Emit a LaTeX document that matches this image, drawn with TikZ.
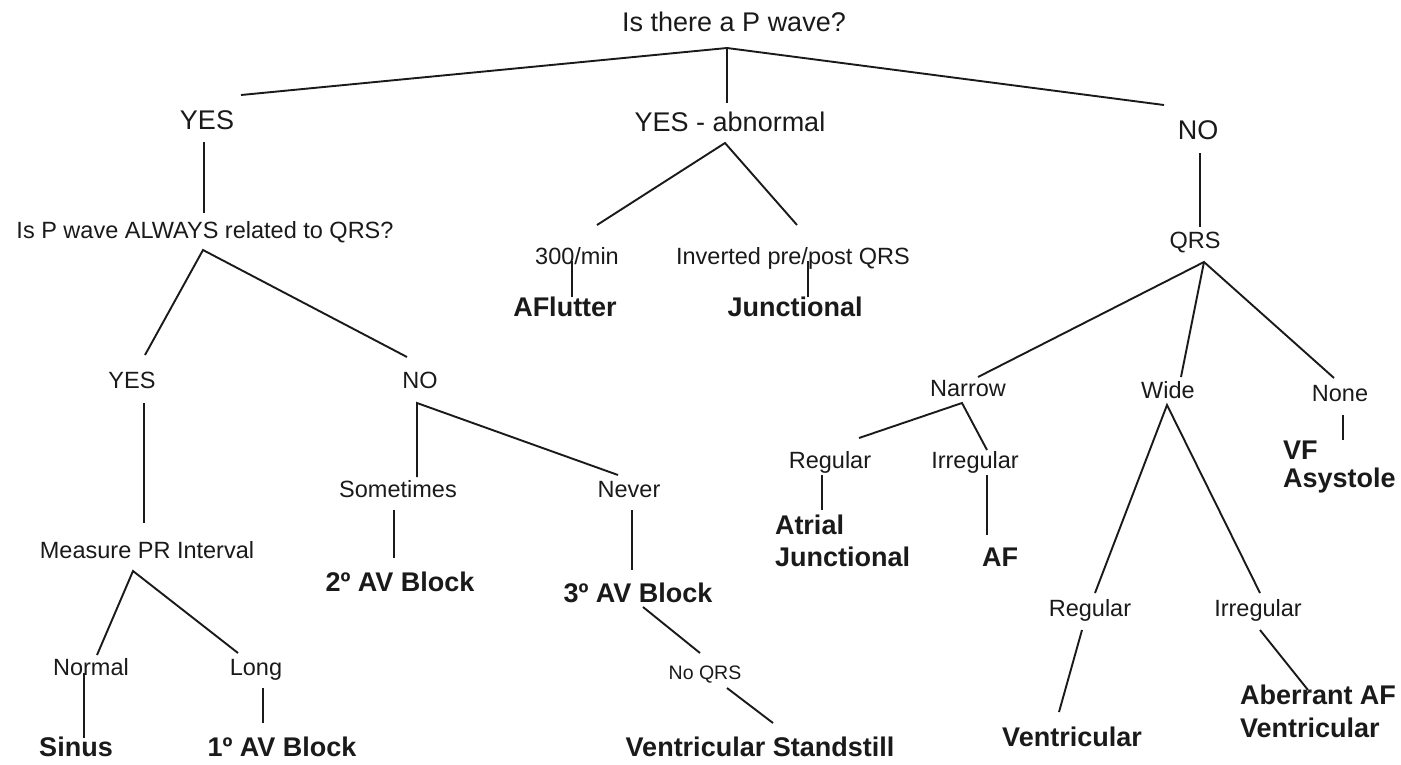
\documentclass[tikz,border=0pt]{standalone}
\usepackage{fontspec}
\setmainfont{Liberation Sans}
\definecolor{ink}{HTML}{1A1A1A}
\begin{document}
\begin{tikzpicture}[x=1pt,y=-1pt,
  every node/.style={inner sep=0pt,outer sep=0pt,text=ink},
  big/.style={text height=19.3pt,text depth=0pt,font=\fontsize{27}{32}\selectfont},
  mid/.style={text height=16.8pt,text depth=0pt,font=\fontsize{23.5}{28}\selectfont},
  small/.style={text height=14pt,text depth=0pt,font=\fontsize{19.5}{23}\selectfont},
  res/.style={text height=19.3pt,text depth=0pt,font=\fontsize{27}{32}\selectfont\bfseries},
  resml/.style={align=left,anchor=north west},
  conn/.style={draw=ink,line width=1.9pt}]
\fill[white] (0,0) rectangle (1401,764);
\useasboundingbox (0,0) rectangle (1401,764);

% ---------- nodes ----------
\node[big] (top) at (734,22) {Is there a P wave?};
\node[big] (yesA) at (207,120) {YES};
\node[big] (abn) at (730,122) {YES - abnormal};
\node[big] (noA) at (1198,130) {NO};

\node[mid] (q1) at (205,230) {Is P wave ALWAYS related to QRS?};
\node[mid] (r300) at (577,256) {300/min};
\node[mid] (inv) at (793,256) {Inverted pre/post QRS};
\node[res] (aflut) at (565,307) {AFlutter};
\node[res] (junc) at (795,307) {Junctional};
\node[mid] (qrs) at (1195,240) {QRS};

\node[mid] (yesB) at (132,380) {YES};
\node[mid] (noB) at (420,380) {NO};
\node[mid] (narrow) at (968,388) {Narrow};
\node[mid] (wide) at (1168,390) {Wide};
\node[mid] (none) at (1340,393) {None};

\node[mid] (regN) at (830,460) {Regular};
\node[mid] (irrN) at (975,460) {Irregular};
\node[resml,font=\fontsize{27}{32}\selectfont\bfseries] (atrial) at (775,515.3) {Atrial\\Junctional};
\node[res] (af) at (1000,557) {AF};
\node[resml,font=\fontsize{27}{28}\selectfont\bfseries] (vf) at (1283,441.3) {VF\\Asystole};

\node[mid] (some) at (398,489) {Sometimes};
\node[mid] (never) at (629,489) {Never};
\node[mid] (measure) at (147,550) {Measure PR Interval};
\node[res] (av2) at (400,582) {2º AV Block};
\node[res] (av3) at (638,593) {3º AV Block};

\node[mid] (normal) at (91,667) {Normal};
\node[mid] (long) at (256,667) {Long};
\node[small] (noqrs) at (705,672) {No QRS};
\node[res] (sinus) at (76,747) {Sinus};
\node[res] (av1) at (282,747) {1º AV Block};
\node[res] (vstand) at (760,747) {Ventricular Standstill};

\node[mid] (regW) at (1090,608) {Regular};
\node[mid] (irrW) at (1258,608) {Irregular};
\node[res] (vent) at (1072,737) {Ventricular};
\node[resml,font=\fontsize{27}{33}\selectfont\bfseries] (aberr) at (1240,685.3) {Aberrant AF\\Ventricular};

% ---------- connector end points ----------
\coordinate (top-s) at (727,48);
\coordinate (yesA-n) at (241,95);
\coordinate (abn-n) at (727,103);
\coordinate (noA-n) at (1164,105);
\coordinate (yesA-s) at (204,142);
\coordinate (q1-n) at (204,213);
\coordinate (q1-s) at (203,250);
\coordinate (yesB-n) at (145,355);
\coordinate (noB-n) at (407,357);
\coordinate (abn-s) at (725,143);
\coordinate (r300-n) at (597,225);
\coordinate (inv-n) at (797,225);
\coordinate (r300-s) at (572,261);
\coordinate (aflut-n) at (572,297);
\coordinate (inv-s) at (808,261);
\coordinate (junc-n) at (808,297);
\coordinate (noA-s) at (1200,153);
\coordinate (qrs-n) at (1200,227);
\coordinate (qrs-s) at (1204,262);
\coordinate (narrow-n) at (978,377);
\coordinate (wide-n) at (1181,377);
\coordinate (none-n) at (1334,378);
\coordinate (yesB-s) at (144,403);
\coordinate (measure-n) at (144,523);
\coordinate (noB-s) at (417,403);
\coordinate (some-n) at (417,477);
\coordinate (never-n) at (618,475);
\coordinate (some-s) at (394,510);
\coordinate (av2-n) at (394,558);
\coordinate (never-s) at (632,510);
\coordinate (av3-n) at (632,570);
\coordinate (measure-s) at (133,571);
\coordinate (normal-n) at (97,655);
\coordinate (long-n) at (238,653);
\coordinate (normal-s) at (84,673);
\coordinate (sinus-n) at (84,738);
\coordinate (long-s) at (263,688);
\coordinate (av1-n) at (263,723);
\coordinate (av3-s) at (643,607);
\coordinate (noqrs-n) at (700,653);
\coordinate (noqrs-s) at (727,688);
\coordinate (vstand-n) at (773,723);
\coordinate (narrow-s) at (962,403);
\coordinate (regN-n) at (859,438);
\coordinate (irrN-n) at (987,450);
\coordinate (regN-s) at (822,475);
\coordinate (atrial-n) at (822,510);
\coordinate (irrN-s) at (987,475);
\coordinate (af-n) at (987,535);
\coordinate (none-s) at (1343,415);
\coordinate (vf-n) at (1343,440);
\coordinate (wide-s) at (1167,405);
\coordinate (regW-n) at (1095,593);
\coordinate (irrW-n) at (1260,593);
\coordinate (regW-s) at (1082,630);
\coordinate (vent-n) at (1059,712);
\coordinate (irrW-s) at (1260,630);
\coordinate (aberr-n) at (1308,690);

% ---------- connectors ----------
\draw[conn] (yesA-n) -- (top-s) -- (noA-n);
\draw[conn] (top-s) -- (abn-n);
\draw[conn] (yesA-s) -- (q1-n);
\draw[conn] (yesB-n) -- (q1-s) -- (noB-n);
\draw[conn] (r300-n) -- (abn-s) -- (inv-n);
\draw[conn] (r300-s) -- (aflut-n);
\draw[conn] (inv-s) -- (junc-n);
\draw[conn] (noA-s) -- (qrs-n);
\draw[conn] (narrow-n) -- (qrs-s) -- (none-n);
\draw[conn] (qrs-s) -- (wide-n);
\draw[conn] (yesB-s) -- (measure-n);
\draw[conn] (some-n) -- (noB-s) -- (never-n);
\draw[conn] (some-s) -- (av2-n);
\draw[conn] (never-s) -- (av3-n);
\draw[conn] (normal-n) -- (measure-s) -- (long-n);
\draw[conn] (normal-s) -- (sinus-n);
\draw[conn] (long-s) -- (av1-n);
\draw[conn] (av3-s) -- (noqrs-n);
\draw[conn] (noqrs-s) -- (vstand-n);
\draw[conn] (regN-n) -- (narrow-s) -- (irrN-n);
\draw[conn] (regN-s) -- (atrial-n);
\draw[conn] (irrN-s) -- (af-n);
\draw[conn] (none-s) -- (vf-n);
\draw[conn] (regW-n) -- (wide-s) -- (irrW-n);
\draw[conn] (regW-s) -- (vent-n);
\draw[conn] (irrW-s) -- (aberr-n);
\end{tikzpicture}
\end{document}
